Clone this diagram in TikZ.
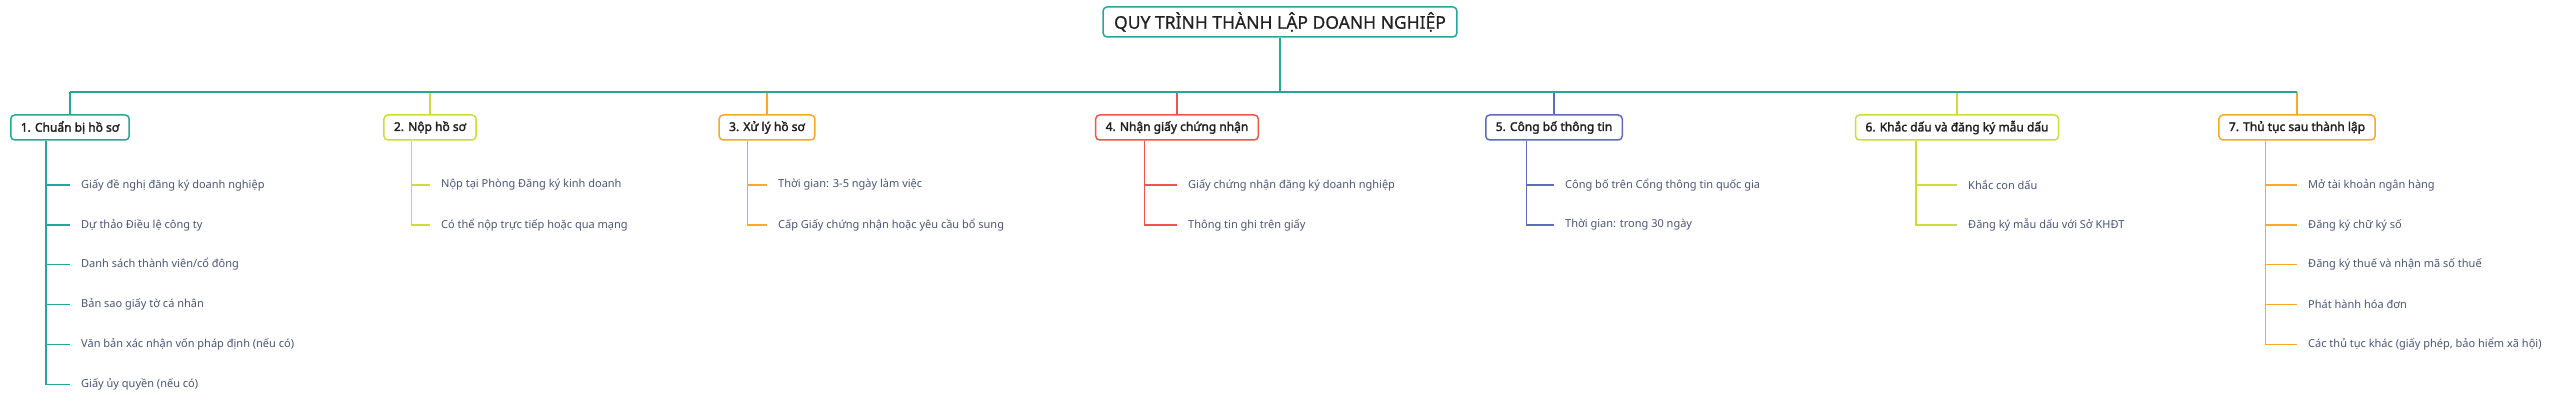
\documentclass[tikz,border=0pt]{standalone}
\usepackage{fontspec}
\setmainfont{Noto Sans}[AutoFakeBold=2.2]
\newfontfamily\rootfont{Noto Sans}[FakeBold=0.7]
\usetikzlibrary{calc}
\definecolor{cteal}{HTML}{26A69A}
\definecolor{clime}{HTML}{CDDC39}
\definecolor{corange}{HTML}{FFA726}
\definecolor{cred}{HTML}{EF5350}
\definecolor{cblue}{HTML}{5C6BC0}
\definecolor{tdark}{HTML}{222222}
\definecolor{tleaf}{HTML}{4A5573}
\begin{document}
\begin{tikzpicture}[x=1pt,y=-1pt,
  rootbox/.style={draw=cteal, line width=1.5pt, rounded corners=4pt, fill=white,
    font=\rootfont\fontsize{17.5}{20}\selectfont, text=tdark, minimum height=30pt, inner xsep=11pt},
  stepbox/.style={draw=#1, line width=1.5pt, rounded corners=4pt, fill=white,
    font=\bfseries\fontsize{12}{14}\selectfont, text=tdark, minimum height=25pt, inner xsep=10pt},
  leaf/.style={anchor=west, inner xsep=11pt, inner ysep=0pt,
    font=\fontsize{11}{13}\selectfont, text=tleaf},
  br/.style={draw=#1, line width=1.3pt},
  bus/.style={draw=cteal, line width=2pt}
]
\useasboundingbox (0,0) rectangle (2560,403);
\node[rootbox] (root) at (1280,22) {QUY TRÌNH THÀNH LẬP DOANH NGHIỆP};
\node[stepbox=cteal] (b1) at (70,127.5) {1. Chuẩn bị hồ sơ};
\node[stepbox=clime] (b2) at (430,127.5) {2. Nộp hồ sơ};
\node[stepbox=corange] (b3) at (767,127.5) {3. Xử lý hồ sơ};
\node[stepbox=cred] (b4) at (1177,127.5) {4. Nhận giấy chứng nhận};
\node[stepbox=cblue] (b5) at (1554,127.5) {5. Công bố thông tin};
\node[stepbox=clime] (b6) at (1957,127.5) {6. Khắc dấu và đăng ký mẫu dấu};
\node[stepbox=corange] (b7) at (2297,127.5) {7. Thủ tục sau thành lập};
% bus
\coordinate (busL) at (70,92);
\coordinate (busR) at (2297,92);
\draw[br=cteal] (b1.north |- busL) -- (b1.north);
\draw[br=clime] (b2.north |- busL) -- (b2.north);
\draw[br=corange] (b3.north |- busL) -- (b3.north);
\draw[br=cred] (b4.north |- busL) -- (b4.north);
\draw[br=cblue] (b5.north |- busL) -- (b5.north);
\draw[br=clime] (b6.north |- busL) -- (b6.north);
\draw[br=corange] (b7.north |- busL) -- (b7.north);
\draw[bus] (busL) -- (busR);
\draw[bus] (root.south) -- (root.south |- busL);
% verticals
\foreach \i in {1,...,7}{\coordinate (v\i) at ($(b\i.south west)!0.3!(b\i.south east)$);}
% branch 1
\node[leaf] (l11) at (70,185) {Giấy đề nghị đăng ký doanh nghiệp};
\node[leaf] (l12) at (70,225) {Dự thảo Điều lệ công ty};
\node[leaf] (l13) at (70,264.5) {Danh sách thành viên/cổ đông};
\node[leaf] (l14) at (70,304.5) {Bản sao giấy tờ cá nhân};
\node[leaf] (l15) at (70,344.5) {Văn bản xác nhận vốn pháp định (nếu có)};
\node[leaf] (l16) at (70,384.5) {Giấy ủy quyền (nếu có)};
\foreach \j in {1,...,6}{\draw[br=cteal] (v1) |- (l1\j.west);}
% branch 2
\node[leaf] (l21) at (430,185) {Nộp tại Phòng Đăng ký kinh doanh};
\node[leaf] (l22) at (430,225) {Có thể nộp trực tiếp hoặc qua mạng};
\foreach \j in {1,2}{\draw[br=clime] (v2) |- (l2\j.west);}
% branch 3
\node[leaf] (l31) at (767,185) {Thời gian: 3-5 ngày làm việc};
\node[leaf] (l32) at (767,225) {Cấp Giấy chứng nhận hoặc yêu cầu bổ sung};
\foreach \j in {1,2}{\draw[br=corange] (v3) |- (l3\j.west);}
% branch 4
\node[leaf] (l41) at (1177,185) {Giấy chứng nhận đăng ký doanh nghiệp};
\node[leaf] (l42) at (1177,225) {Thông tin ghi trên giấy};
\foreach \j in {1,2}{\draw[br=cred] (v4) |- (l4\j.west);}
% branch 5
\node[leaf] (l51) at (1554,185) {Công bố trên Cổng thông tin quốc gia};
\node[leaf] (l52) at (1554,225) {Thời gian: trong 30 ngày};
\foreach \j in {1,2}{\draw[br=cblue] (v5) |- (l5\j.west);}
% branch 6
\node[leaf] (l61) at (1957,185) {Khắc con dấu};
\node[leaf] (l62) at (1957,225) {Đăng ký mẫu dấu với Sở KHĐT};
\foreach \j in {1,2}{\draw[br=clime] (v6) |- (l6\j.west);}
% branch 7
\node[leaf] (l71) at (2297,185) {Mở tài khoản ngân hàng};
\node[leaf] (l72) at (2297,225) {Đăng ký chữ ký số};
\node[leaf] (l73) at (2297,264.5) {Đăng ký thuế và nhận mã số thuế};
\node[leaf] (l74) at (2297,304.5) {Phát hành hóa đơn};
\node[leaf] (l75) at (2297,344.5) {Các thủ tục khác (giấy phép, bảo hiểm xã hội)};
\foreach \j in {1,...,5}{\draw[br=corange] (v7) |- (l7\j.west);}
\end{tikzpicture}
\end{document}
